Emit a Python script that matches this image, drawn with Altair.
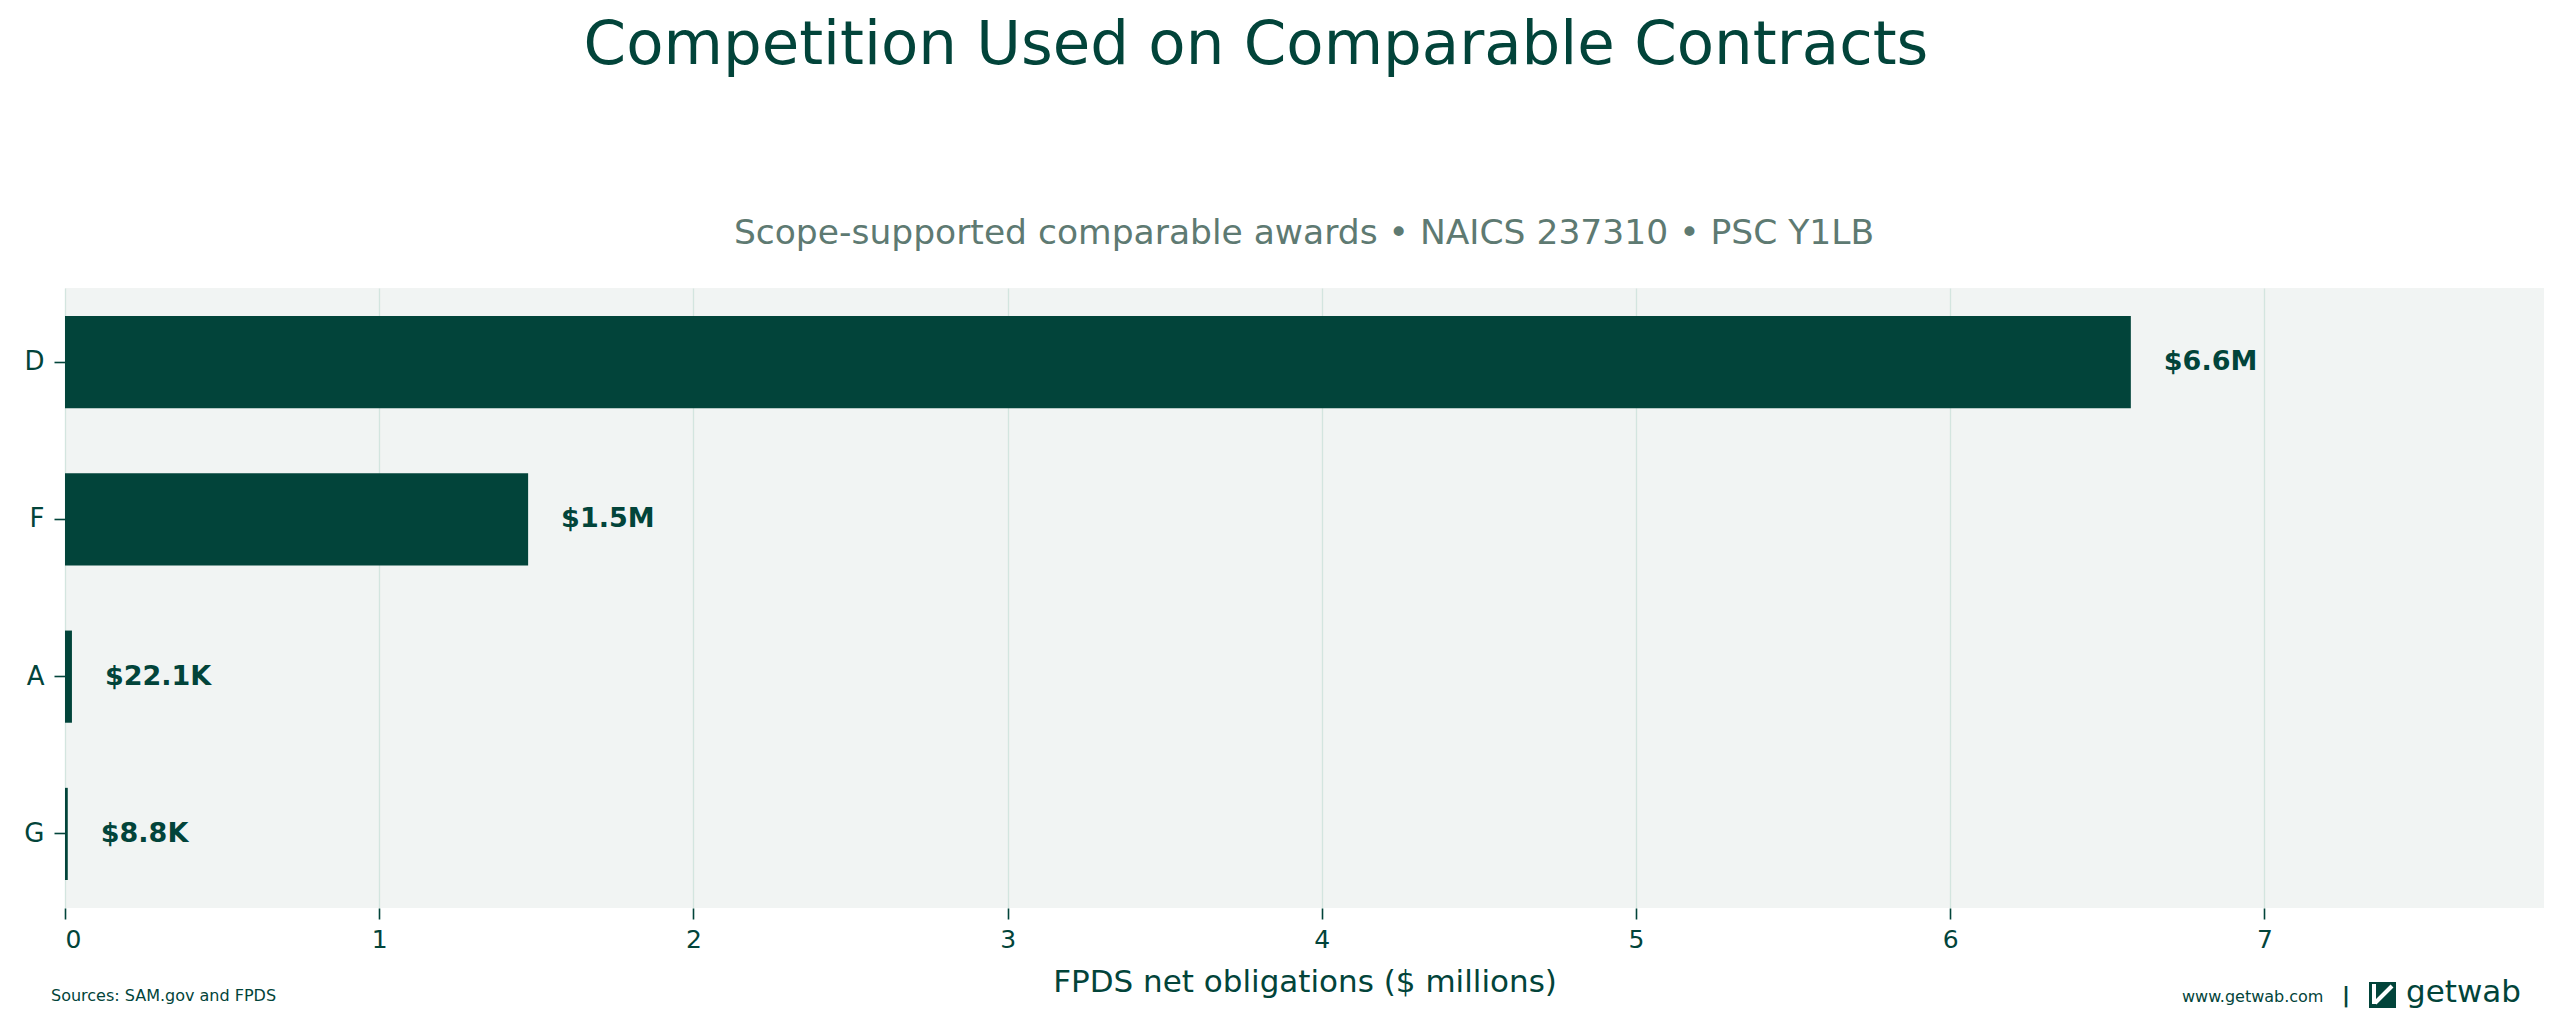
import altair as alt
import pandas as pd

# ---- data ----
categories = ["D", "F", "A", "G"]
values_millions = [6.575, 1.474, 0.0221, 0.0088]
value_labels = ["$6.6M", "$1.5M", "$22.1K", "$8.8K"]
x_ticks = [0, 1, 2, 3, 4, 5, 6, 7]

title_text = "Competition Used on Comparable Contracts"
subtitle_text = "Scope-supported comparable awards \u2022 NAICS 237310 \u2022 PSC Y1LB"
x_title = "FPDS net obligations ($ millions)"
source_text = "Sources: SAM.gov and FPDS"
site_text = "www.getwab.com"
sep_text = "|"
brand_text = "getwab"

DARK = "#02443A"
SUB = "#5E7A72"
BG = "#F1F4F3"
GRID = "#D3E5DF"
FONT = "DejaVu Sans"

W, H = 2479, 620

df = pd.DataFrame({"cat": categories, "val": values_millions, "lab": value_labels})

xscale = alt.Scale(domain=[0, 7.89], nice=False, zero=True)
yscale = alt.Scale(domain=categories, paddingInner=0.414, paddingOuter=0.178)

bars = alt.Chart(df).mark_bar(color=DARK).encode(
    x=alt.X("val:Q", scale=xscale,
            axis=alt.Axis(values=x_ticks, title=x_title, format="d",
                          grid=True, gridColor=GRID, gridWidth=1.3,
                          domain=False, tickSize=11, tickWidth=1.6, tickColor=DARK,
                          labelFontSize=25, labelColor=DARK, labelPadding=8,
                          labelFont=FONT, titleFont=FONT, titleFontWeight="normal",
                          titleFontSize=31, titleColor=DARK, titlePadding=15)),
    y=alt.Y("cat:N", scale=yscale, sort=categories,
            axis=alt.Axis(title=None, domain=False, grid=False, tickSize=11,
                          tickWidth=1.6, tickColor=DARK, labelFontSize=26,
                          labelColor=DARK, labelPadding=10, labelFont=FONT)),
)

labels = alt.Chart(df).mark_text(
    align="left", baseline="middle", dx=33, font=FONT, fontSize=27,
    fontWeight="bold", color=DARK
).encode(
    x=alt.X("val:Q", scale=xscale),
    y=alt.Y("cat:N", scale=yscale, sort=categories),
    text="lab:N",
)

def free_text(txt, x, y, size, color=DARK, align="center", weight="normal"):
    return alt.Chart(pd.DataFrame({"t": [txt]})).mark_text(
        align=align, baseline="middle", font=FONT, fontSize=size,
        fontWeight=weight, color=color
    ).encode(text="t:N", x=alt.value(x), y=alt.value(y))

title = free_text(title_text, 1191, -242, 61)
subtitle = free_text(subtitle_text, 1239, -54, 34.5, color=SUB)
source = free_text(source_text, -14, 708, 16, align="left")
site = free_text(site_text, 2117, 709, 16, align="left")
sep = free_text(sep_text, 2281, 707, 22, weight="bold")
brand = free_text(brand_text, 2341, 705, 31, align="left", weight=500)

icon_df = pd.DataFrame({"k": ["icon"]})
icon = alt.Chart(icon_df).mark_rect(color=DARK).encode(
    x=alt.value(2304), x2=alt.value(2331), y=alt.value(694), y2=alt.value(720)
)
icon_line = alt.Chart(icon_df).mark_rule(color="white", strokeWidth=4).encode(
    x=alt.value(2327), x2=alt.value(2310), y=alt.value(698), y2=alt.value(715)
)
icon_line2 = alt.Chart(icon_df).mark_rule(color="white", strokeWidth=4).encode(
    x=alt.value(2309), x2=alt.value(2309), y=alt.value(696), y2=alt.value(716)
)

chart = alt.layer(bars, labels, title, subtitle, source, site, sep, brand,
                  icon, icon_line, icon_line2).properties(
    width=W, height=H,
    padding={"left": 57, "top": 280, "right": 13, "bottom": 100},
    autosize=alt.AutoSizeParams(type="none"),
    background="white",
).configure(font=FONT).configure_view(fill=BG, stroke="transparent", strokeWidth=0)

chart.save("out.html", embed_options={"renderer": "svg", "actions": False})
